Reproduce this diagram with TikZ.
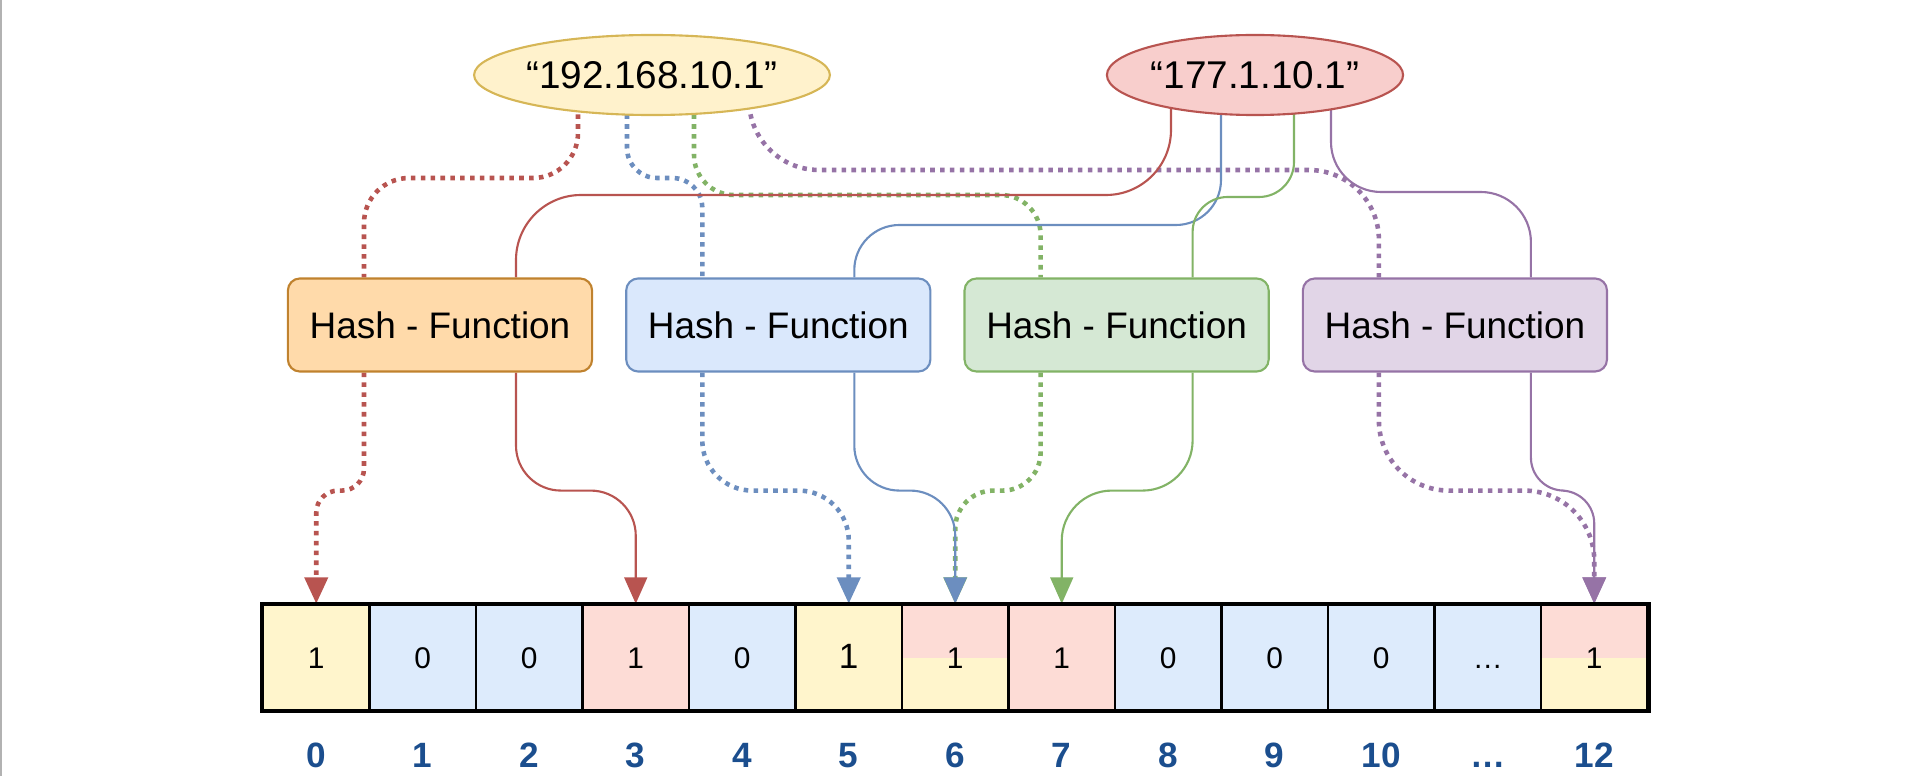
\documentclass[tikz,border=0pt]{standalone}
\usepackage{fontspec}
\setmainfont{Liberation Sans}
\usepackage{tikz}
\usetikzlibrary{shapes.geometric,calc,positioning,arrows.meta,backgrounds}

\definecolor{ipyfill}{HTML}{FFF2CC}
\definecolor{ipyline}{HTML}{D6B656}
\definecolor{iprfill}{HTML}{F8CECC}
\definecolor{redline}{HTML}{B85450}
\definecolor{orfill}{HTML}{FFDAAA}
\definecolor{orline}{HTML}{C0822E}
\definecolor{blfill}{HTML}{DAE8FC}
\definecolor{blueline}{HTML}{6C8EBF}
\definecolor{grfill}{HTML}{D5E8D4}
\definecolor{greenline}{HTML}{82B366}
\definecolor{pufill}{HTML}{E1D5E7}
\definecolor{purpleline}{HTML}{9673A6}
\definecolor{cellY}{HTML}{FFF5CC}
\definecolor{cellB}{HTML}{DDEBFC}
\definecolor{cellR}{HTML}{FDDCD6}
\definecolor{idxblue}{HTML}{1B4E8E}

\newcommand{\bigone}{{\fontsize{10}{11}\selectfont 1}}

\tikzset{
  ipnode/.style={ellipse, draw, line width=0.6pt, minimum width=2.96cm, minimum height=0.8cm, inner sep=0pt, font=\fontsize{11}{13}\selectfont},
  hashbox/.style={rectangle, rounded corners=0.12cm, draw, line width=0.6pt, minimum width=3.04cm, minimum height=0.93cm, font=\fontsize{10.5}{12}\selectfont},
  cellnode/.style 2 args={rectangle, draw=black, line width=0.7pt, minimum width=1.065cm, minimum height=1.05cm, inner sep=0pt, fill=#1,
    path picture={\fill[#2] (path picture bounding box.west) rectangle (path picture bounding box.south east);},
    font=\fontsize{8.5}{10}\selectfont, text height=6pt, text depth=0pt},
  idxlabel/.style={font=\fontsize{10}{12}\selectfont\bfseries, text=idxblue, inner sep=0pt, text height=7.2pt, text depth=0pt},
  tipend/.style={-{Triangle[length=7.5pt,width=6.5pt]}},
  dotedge/.style={line width=1.3pt, dash pattern=on 1.3pt off 1.5pt},
  soledge/.style={line width=0.6pt}
}

\begin{document}
\begin{tikzpicture}[x=0.01cm,y=-0.01cm]
  \useasboundingbox (0,0) rectangle (1920,776);
  \draw[gray!60, line width=0.7pt] (1,0) -- (1,776);

  % ip addresses
  \node[ipnode, fill=ipyfill, draw=ipyline] (ip1) at (652,75) {“192.168.10.1”};
  \node[ipnode, fill=iprfill, draw=redline] (ip2) at (1255,75) {“177.1.10.1”};

  % hash functions
  \node[hashbox, fill=orfill, draw=orline] (hf1) at (440,325) {Hash - Function};
  \node[hashbox, fill=blfill, draw=blueline] (hf2) [right=0.32cm of hf1] {Hash - Function};
  \node[hashbox, fill=grfill, draw=greenline] (hf3) [right=0.32cm of hf2] {Hash - Function};
  \node[hashbox, fill=pufill, draw=purpleline] (hf4) [right=0.32cm of hf3] {Hash - Function};

  % bit array
  \foreach \colA/\colB/\val/\idx [count=\i from 0] in
    {cellY/cellY/1/0, cellB/cellB/0/1, cellB/cellB/0/2, cellR/cellR/1/3, cellB/cellB/0/4,
     cellY/cellY/\bigone/5, cellR/cellY/1/6, cellR/cellR/1/7, cellB/cellB/0/8, cellB/cellB/0/9,
     cellB/cellB/0/10, cellB/cellB/\ldots/\ldots, cellR/cellY/1/12}
  {
    \node[cellnode={\colA}{\colB}] (c\i) at ({316.25+106.5*\i},657.5) {\val};
    \node[idxlabel] (i\i) [below=0.3cm of c\i] {\idx};
  }
  \draw[line width=1.1pt] (c0.north west) rectangle (c12.south east);

  \begin{scope}[on background layer]
    % 192.168.10.1
    \draw[dotedge, redline, rounded corners=0.45cm] ($(ip1.center)+(-74,0)$) -- ++(0,103) -| ($(hf1.north)+(-76,0)$);
    \draw[dotedge, blueline, rounded corners=0.3cm] ($(ip1.center)+(-25,0)$) -- ++(0,103) -| ($(hf2.north)+(-76,0)$);
    \draw[dotedge, greenline, rounded corners=0.4cm] ($(ip1.center)+(42,0)$) -- ++(0,120) -| ($(hf3.north)+(-76,0)$);
    \draw[dotedge, purpleline, rounded corners=0.7cm] ($(ip1.center)+(97,0)$) -- ++(0,95) -| ($(hf4.north)+(-76,0)$);
    \draw[dotedge, tipend, redline, rounded corners=0.22cm] ($(hf1.south)+(-76,0)$) -- ++(0,118) -| (c0.north);
    \draw[dotedge, tipend, blueline, rounded corners=0.5cm] ($(hf2.south)+(-76,0)$) -- ++(0,118) -| (c5.north);
    \draw[dotedge, tipend, greenline, rounded corners=0.38cm] ($(hf3.south)+(-76,0)$) -- ++(0,118) -| (c6.north);
    \draw[dotedge, tipend, purpleline, rounded corners=0.7cm] ($(hf4.south)+(-76,0)$) -- ++(0,118) -| (c12.north);
    % 177.1.10.1
    \draw[soledge, redline, rounded corners=0.65cm] ($(ip2.center)+(-84,0)$) -- ++(0,120) -| ($(hf1.north)+(76,0)$);
    \draw[soledge, blueline, rounded corners=0.45cm] ($(ip2.center)+(-34,0)$) -- ++(0,150) -| ($(hf2.north)+(76,0)$);
    \draw[soledge, greenline, rounded corners=0.35cm] ($(ip2.center)+(39,0)$) -- ++(0,122) -| ($(hf3.north)+(76,0)$);
    \draw[soledge, purpleline, rounded corners=0.5cm] ($(ip2.center)+(76,0)$) -- ++(0,117) -| ($(hf4.north)+(76,0)$);
    \draw[soledge, tipend, redline, rounded corners=0.45cm] ($(hf1.south)+(76,0)$) -- ++(0,118) -| (c3.north);
    \draw[soledge, tipend, blueline, rounded corners=0.45cm] ($(hf2.south)+(76,0)$) -- ++(0,118) -| (c6.north);
    \draw[soledge, tipend, greenline, rounded corners=0.5cm] ($(hf3.south)+(76,0)$) -- ++(0,118) -| (c7.north);
    \draw[soledge, tipend, purpleline, rounded corners=0.33cm] ($(hf4.south)+(76,0)$) -- ++(0,118) -| (c12.north);
  \end{scope}
\end{tikzpicture}
\end{document}
